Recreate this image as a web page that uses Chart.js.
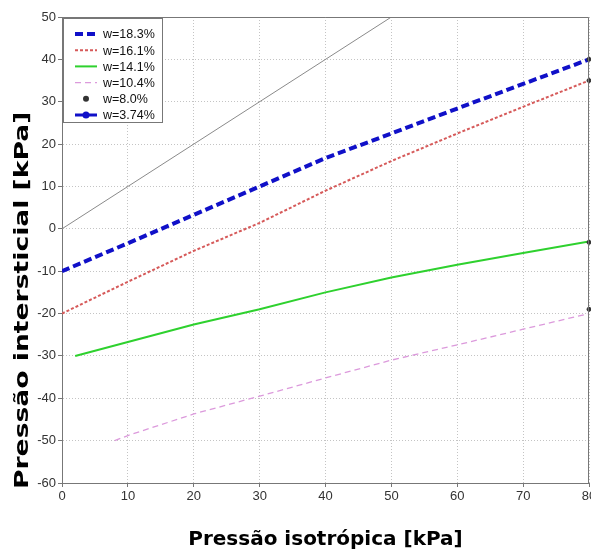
<!DOCTYPE html>
<html>
<head>
<meta charset="utf-8">
<script src="https://cdn.jsdelivr.net/npm/chart.js@4.4.1/dist/chart.umd.min.js"></script>
<style>
html,body{margin:0;padding:0;background:#fff;}
#wrap{position:relative;width:591px;height:556px;}
</style>
</head>
<body>
<div id="wrap"><canvas id="c" width="591" height="556"></canvas></div>
<script>
// ---- data ----
const xBlue  = [0, 10, 20, 30, 40, 50, 60, 70, 80];
const yBlue  = [-10, -3.4, 3.3, 10, 16.7, 22.5, 28.4, 34.2, 40];
const xRed   = [0, 10, 20, 30, 40, 50, 60, 70, 80];
const yRed   = [-20, -12.5, -5.2, 1.4, 9, 16, 22.5, 28.8, 35];
const xGreen = [2, 10, 20, 30, 40, 50, 60, 70, 80];
const yGreen = [-30, -26.7, -22.6, -19, -15, -11.5, -8.5, -5.7, -3];
const xPink  = [8, 10, 20, 30, 40, 50, 60, 70, 80];
const yPink  = [-50, -48.8, -43.7, -39.5, -35.2, -31, -27.4, -23.7, -20];
const xBlack = [80, 80, 80, 80];
const yBlack = [40, 35, -3.2, -19];
const xRef   = [0, 50];
const yRef   = [0, 50];
const seriesLabels = ['w=18.3%', 'w=16.1%', 'w=14.1%', 'w=10.4%', 'w=8.0%', 'w=3.74%'];
const xTicks = [0, 10, 20, 30, 40, 50, 60, 70, 80];
const yTicks = [-60, -50, -40, -30, -20, -10, 0, 10, 20, 30, 40, 50];

const pts = (xs, ys) => xs.map((x, i) => ({x: x, y: ys[i]}));

const datasets = [
  {label: seriesLabels[0], data: pts(xBlue, yBlue), borderColor: '#1010c8', borderWidth: 4, borderDash: [8, 4], pointRadius: 0, showLine: true, order: 2},
  {label: seriesLabels[1], data: pts(xRed, yRed), borderColor: '#d65a5a', borderWidth: 2, borderDash: [3, 2], pointRadius: 0, showLine: true, order: 3},
  {label: seriesLabels[2], data: pts(xGreen, yGreen), borderColor: '#2ed12e', borderWidth: 2, pointRadius: 0, showLine: true, order: 4},
  {label: seriesLabels[3], data: pts(xPink, yPink), borderColor: '#dc9adc', borderWidth: 1.3, borderDash: [6, 4], pointRadius: 0, showLine: true, order: 5},
  {label: seriesLabels[4], data: pts(xBlack, yBlack), borderColor: '#333', backgroundColor: '#333', borderWidth: 1, pointRadius: 2, showLine: false, order: 1, clip: false},
  {label: seriesLabels[5], data: [], borderColor: '#1010c8', backgroundColor: '#1010c8', borderWidth: 3, pointRadius: 4, showLine: true, order: 6},
  {label: 'ref', data: pts(xRef, yRef), borderColor: '#8a8a8a', borderWidth: 1, pointRadius: 0, showLine: true, order: 7}
];

const Y_TITLE_FONT = 'bold 19px "DejaVu Sans", Verdana, sans-serif';

const boxPlugin = {
  id: 'boxAndLegend',
  afterDraw(chart) {
    const ctx = chart.ctx;
    const a = chart.chartArea;
    ctx.save();
    // plot frame (top and right edges)
    ctx.strokeStyle = '#777';
    ctx.lineWidth = 1;
    ctx.beginPath();
    ctx.moveTo(a.left, a.top + 0.5); ctx.lineTo(a.right - 0.5, a.top + 0.5); ctx.lineTo(a.right - 0.5, a.bottom);
    ctx.stroke();
    // legend box
    const x0 = a.left + 1, y0 = a.top + 1, w = 99, h = 104;
    ctx.fillStyle = '#fff';
    ctx.fillRect(x0, y0, w, h);
    ctx.strokeStyle = '#777';
    ctx.strokeRect(x0 + 0.5, y0 + 0.5, w, h);
    ctx.font = '12.5px "Liberation Sans", Arial, sans-serif';
    ctx.textBaseline = 'middle';
    for (let i = 0; i < 6; i++) {
      const ds = chart.data.datasets[i];
      const yy = y0 + 16 + i * 16.2;
      const lx1 = x0 + 12, lx2 = x0 + 34;
      ctx.strokeStyle = ds.borderColor;
      ctx.lineWidth = ds.borderWidth || 1;
      ctx.setLineDash(ds.borderDash || []);
      if (ds.showLine) {
        ctx.beginPath(); ctx.moveTo(lx1, yy); ctx.lineTo(lx2, yy); ctx.stroke();
      }
      ctx.setLineDash([]);
      if (ds.pointRadius > 0) {
        ctx.fillStyle = ds.backgroundColor;
        ctx.beginPath(); ctx.arc((lx1 + lx2) / 2, yy, ds.showLine ? 3.5 : 3, 0, Math.PI * 2); ctx.fill();
      }
      ctx.fillStyle = '#111';
      ctx.fillText(ds.label, x0 + 40, yy + 1);
    }
    ctx.restore();
  }
};

new Chart(document.getElementById('c'), {
  type: 'scatter',
  data: {datasets: datasets},
  plugins: [boxPlugin],
  options: {
    responsive: false,
    animation: false,
    layout: {autoPadding: false, padding: {top: 17, right: 2, left: 0, bottom: 0}},
    plugins: {legend: {display: false}, tooltip: {enabled: false}},
    scales: {
      x: {
        type: 'linear', min: 0, max: 80,
        afterBuildTicks(s) { s.ticks = xTicks.map(v => ({value: v})); },
        afterFit(s) { s.height = 73; s.paddingRight = 0; s.paddingLeft = 0; },
        ticks: {color: '#333', font: {family: '"Liberation Sans", Arial, sans-serif', size: 13}, padding: 2, maxRotation: 0},
        grid: {color: '#c4c4c4', tickLength: 4, tickColor: '#777', lineWidth: 1},
        border: {display: true, color: '#777', dash: [1, 2]},
        title: {display: true, text: 'Pressão isotrópica [kPa]', color: '#000', font: {family: '"DejaVu Sans", Verdana, sans-serif', size: 20, weight: 'bold'}, padding: {top: 13}}
      },
      y: {
        type: 'linear', min: -60, max: 50,
        afterBuildTicks(s) { s.ticks = yTicks.map(v => ({value: v})); },
        afterFit(s) {
          s.width = 62;
          // stretched vertical title, drawn from the bottom of the plot upward
          s.drawTitle = function () {
            const t = this.options.title;
            const ctx = this.ctx;
            const a = this.chart.chartArea;
            ctx.save();
            ctx.translate(23, a.bottom + 6);
            ctx.rotate(-Math.PI / 2);
            ctx.scale(1.4, 1);
            ctx.font = Y_TITLE_FONT;
            ctx.fillStyle = t.color;
            ctx.textAlign = 'left';
            ctx.textBaseline = 'middle';
            ctx.fillText(t.text, 0, 0);
            ctx.restore();
          };
        },
        ticks: {color: '#333', font: {family: '"Liberation Sans", Arial, sans-serif', size: 13}, padding: 2},
        grid: {color: '#c4c4c4', tickLength: 4, tickColor: '#777'},
        border: {display: true, color: '#777', dash: [1, 2]},
        title: {display: true, text: 'Pressão intersticial [kPa]', color: '#000', font: {family: '"DejaVu Sans", Verdana, sans-serif', size: 19, weight: 'bold'}, padding: {bottom: 4}}
      }
    }
  }
});
</script>
</body>
</html>
